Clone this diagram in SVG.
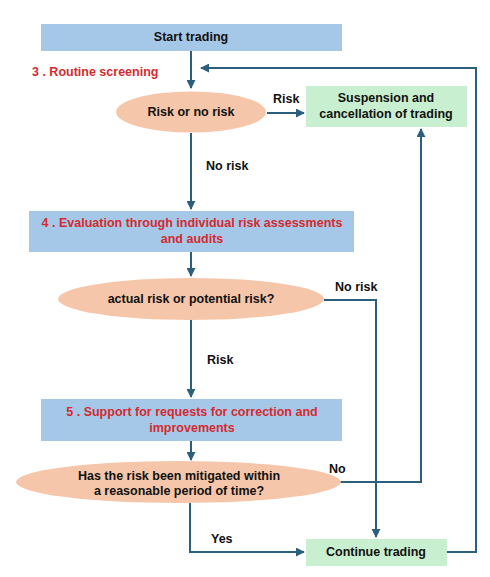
<svg xmlns="http://www.w3.org/2000/svg" width="490" height="577" viewBox="0 0 490 577">
<style>
  .box { fill: #a6c8e8; }
  .term { fill: #c8efcf; }
  .dec { fill: #f5c6aa; }
  .t { font-family: "Liberation Sans", Arial, sans-serif; font-weight: bold; font-size: 12.5px; fill: #111; text-anchor: middle; dominant-baseline: central; }
  .red { fill: #d42a2f; }
  .lbl { text-anchor: start; }
  .conn { fill: none; stroke: #2a5f7e; stroke-width: 2; }
</style>
<defs>
  <marker id="ah" viewBox="0 0 10 10" refX="9" refY="5" markerWidth="4.5" markerHeight="4.5" orient="auto" markerUnits="strokeWidth">
    <path d="M0,0 L10,5 L0,10 z" fill="#2a5f7e"/>
  </marker>
</defs>
<rect width="490" height="577" fill="#ffffff"/>

<g id="connectors">
  <path class="conn" d="M191,51 V88" marker-end="url(#ah)"/>
  <path class="conn" d="M267,113 H304" marker-end="url(#ah)"/>
  <path class="conn" d="M191,133 V209" marker-end="url(#ah)"/>
  <path class="conn" d="M191,252 V276" marker-end="url(#ah)"/>
  <path class="conn" d="M324,300 H376 V537" marker-end="url(#ah)"/>
  <path class="conn" d="M191,320 V397" marker-end="url(#ah)"/>
  <path class="conn" d="M191,441 V460" marker-end="url(#ah)"/>
  <path class="conn" d="M330,482 H421 V129" marker-end="url(#ah)"/>
  <path class="conn" d="M190,503 V552 H304" marker-end="url(#ah)"/>
  <path class="conn" d="M447,552 H476 V68 H201" marker-end="url(#ah)"/>
  <text class="t lbl" x="273" y="99">Risk</text>
  <text class="t lbl" x="206" y="166">No risk</text>
  <text class="t lbl" x="335" y="287">No risk</text>
  <text class="t lbl" x="207" y="360">Risk</text>
  <text class="t lbl" x="329" y="469">No</text>
  <text class="t lbl" x="211" y="539">Yes</text>
</g>

<g id="start">
  <rect class="box" x="41" y="24" width="301" height="27"/>
  <text class="t" x="191" y="37">Start trading</text>
</g>

<g id="step3-label">
  <text class="t red lbl" x="32" y="72" font-size="13">3 . Routine screening</text>
</g>

<g id="decision1">
  <ellipse class="dec" cx="191" cy="112" rx="75" ry="20.5"/>
  <text class="t" x="191" y="112">Risk or no risk</text>
</g>

<g id="suspension">
  <rect class="term" x="306" y="86" width="161" height="41"/>
  <text class="t" x="386" y="98">Suspension and</text>
  <text class="t" x="386" y="114">cancellation of trading</text>
</g>

<g id="step4">
  <rect class="box" x="29" y="211" width="325" height="41"/>
  <text class="t red" x="192" y="223">4 . Evaluation through individual risk assessments</text>
  <text class="t red" x="192" y="239">and audits</text>
</g>

<g id="decision2">
  <ellipse class="dec" cx="191" cy="299" rx="133" ry="21"/>
  <text class="t" x="191" y="299">actual risk or potential risk?</text>
</g>

<g id="step5">
  <rect class="box" x="41" y="399" width="301" height="42"/>
  <text class="t red" x="192" y="412">5 . Support for requests for correction and</text>
  <text class="t red" x="192" y="428">improvements</text>
</g>

<g id="decision3">
  <ellipse class="dec" cx="178.5" cy="482" rx="162.5" ry="21"/>
  <text class="t" x="179" y="476">Has the risk been mitigated within</text>
  <text class="t" x="179" y="491">a reasonable period of time?</text>
</g>

<g id="continue">
  <rect class="term" x="306" y="539" width="141" height="27"/>
  <text class="t" x="376" y="552" font-size="15">Continue trading</text>
</g>
</svg>
